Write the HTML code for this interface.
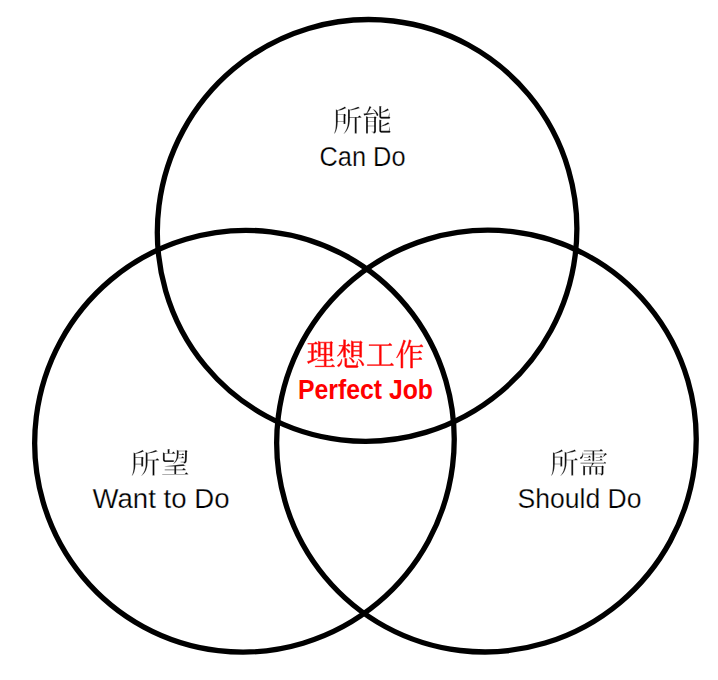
<!DOCTYPE html>
<html><head><meta charset="utf-8"><style>
html,body{margin:0;padding:0;background:#ffffff;width:718px;height:680px;overflow:hidden}
svg{display:block}
text{font-family:"Liberation Sans", sans-serif}
</style></head><body>
<svg width="718" height="680" viewBox="0 0 718 680">
<rect width="718" height="680" fill="#ffffff"/>
<g fill="none" stroke="#000000" stroke-width="5.3"><ellipse cx="367.1" cy="230.4" rx="211.3" ry="209.3" transform="rotate(-61.45 367.1 230.4)"/><ellipse cx="244.45" cy="441.2" rx="211.3" ry="209.3" transform="rotate(-61.45 244.45 441.2)"/><ellipse cx="486.45" cy="441.1" rx="211.3" ry="209.3" transform="rotate(-61.45 486.45 441.1)"/></g>
<g fill="#000" stroke="#ffffff" stroke-width="9.8"><path transform="translate(332.39,131.57) scale(0.02999,-0.03052)" d="M172 700 264 737 317 763 368 790 412 817 417 820 429 801 457 771 458 753 439 762 422 752 365 728 336 717 307 708 275 699 245 692 214 687 182 683H180V570H384L402 586L460 539L434 518V245H371V318H179L177 292L173 237L167 186L158 138L148 94L136 53L121 16L105 -19L86 -48L64 -73L57 -67L68 -38L79 -8L89 26L98 63L104 103L110 146L114 191L117 241L118 294L117 350V728ZM582 712 736 765 795 786 820 797 863 817 868 807 909 770 910 752 891 761 865 752 839 744 781 729 715 715 678 708 639 701 597 696 583 695V476H848L900 528L963 476V455H810V-60H746V455H583V392L579 332L572 275L562 222L548 170L530 122L509 76L483 33L454 -6L421 -41L385 -73L378 -66L406 -29L432 11L453 51L473 93L488 137L501 184L511 232L517 283L520 336V743ZM180 549V339H371V549Z"/><path transform="translate(362.38,131.57) scale(0.02999,-0.03052)" d="M306 -2H375L380 -1L385 1L387 3L388 8L390 13V171H185V-60H122V507L185 476H390L421 502L479 455L453 434V19L452 6L449 -8L445 -20L438 -32L430 -43L420 -51L407 -58L395 -62L382 -64L369 -65V-33L306 -18ZM634 -38 620 -36 607 -31 585 -17 576 -6 570 6 565 19 563 32V387L626 376L642 365L626 355V183L741 241L815 283L853 308L856 311L870 290L896 262L897 243L878 251L842 233L788 211L760 200L698 180L666 171L632 163L626 162V39L627 34L629 29L631 27L636 25L641 24H878L909 155H920L909 24L929 12L941 -8L929 -26L909 -39H647ZM634 424 620 427 607 431 585 445 576 456 570 469 565 480 563 494V838L626 827L642 817L626 808V634L713 678L764 704L828 744L842 754L846 757L859 735L886 708L887 689L867 697L835 682L784 660L728 641L697 631L665 623L631 615L626 614V501L627 496L629 491L631 489L636 487L641 486H867L899 617H909L899 486L918 474L931 455L918 436L899 423H647ZM459 574 450 595 447 601 416 592 378 583 261 561 140 541 78 532 68 515 57 529 40 591 51 592 135 597 181 690 203 742 237 829 240 836 296 806 307 790 286 787 266 745 235 692 203 646 188 626 171 607 161 599 216 603 256 604 296 606 374 611H441L429 633L415 652L400 672L364 711L344 731L350 739L376 727L400 713L423 696L443 679L463 660L480 641L496 620L510 599L521 576L531 553L527 528L510 514L485 516L470 534L466 555ZM185 318V192H390V318ZM185 455V339H390V455Z"/></g><g fill="#000" stroke="#ffffff" stroke-width="10.3"><path transform="translate(130.08,473.68) scale(0.03010,-0.02907)" d="M172 700 264 737 317 763 368 790 412 817 417 820 429 801 457 771 458 753 439 762 422 752 365 728 336 717 307 708 275 699 245 692 214 687 182 683H180V570H384L402 586L460 539L434 518V245H371V318H179L177 292L173 237L167 186L158 138L148 94L136 53L121 16L105 -19L86 -48L64 -73L57 -67L68 -38L79 -8L89 26L98 63L104 103L110 146L114 191L117 241L118 294L117 350V728ZM582 712 736 765 795 786 820 797 863 817 868 807 909 770 910 752 891 761 865 752 839 744 781 729 715 715 678 708 639 701 597 696 583 695V476H848L900 528L963 476V455H810V-60H746V455H583V392L579 332L572 275L562 222L548 170L530 122L509 76L483 33L454 -6L421 -41L385 -73L378 -66L406 -29L432 11L453 51L473 93L488 137L501 184L511 232L517 283L520 336V743ZM180 549V339H371V549Z"/><path transform="translate(160.18,473.68) scale(0.03010,-0.02907)" d="M69 -8H469V118H153V140H469V247L421 245L356 243H223L153 246V255L222 264L543 299L661 313L770 327L774 328L775 322L837 271L839 256L814 270L781 266L725 261L607 254L531 250V140H731L783 192L847 140V118H531V-8H815L867 45L931 -8V-28H69ZM615 791H825L857 817L915 770L889 754L888 726V630L887 588L886 551L884 518L883 489L881 465L879 444L876 428L873 414L868 401L862 390L854 380L845 370L834 362L822 356L810 353L797 351L783 350V381L679 396V413H790L795 414L799 415L805 418L809 423L811 427L813 432V438L816 452L818 470L819 493L821 521L822 553L823 590L824 631L825 676V770H615V686L612 639L605 595L596 552V549H698L741 597L794 549V528H589V530L583 513L567 476L548 441L525 409L501 381L472 356L439 336L434 344L458 371L479 399L497 429L513 460L526 492L537 527L545 563L550 603L553 644V822ZM469 434 456 415 437 402H175L161 403L147 405L135 409L123 416L112 425L104 436L98 447L93 460L91 473V738L153 707H248V849L311 838L327 827L311 818V707H385L437 759L500 707V686H153V479L154 476L156 471L158 469L163 467L168 466L175 465H437L456 452ZM794 665V644H615V665H720L752 701Z"/></g><g fill="#000" stroke="#ffffff" stroke-width="10.2"><path transform="translate(549.54,473.65) scale(0.02918,-0.02945)" d="M172 700 264 737 317 763 368 790 412 817 417 820 429 801 457 771 458 753 439 762 422 752 365 728 336 717 307 708 275 699 245 692 214 687 182 683H180V570H384L402 586L460 539L434 518V245H371V318H179L177 292L173 237L167 186L158 138L148 94L136 53L121 16L105 -19L86 -48L64 -73L57 -67L68 -38L79 -8L89 26L98 63L104 103L110 146L114 191L117 241L118 294L117 350V728ZM582 712 736 765 795 786 820 797 863 817 868 807 909 770 910 752 891 761 865 752 839 744 781 729 715 715 678 708 639 701 597 696 583 695V476H848L900 528L963 476V455H810V-60H746V455H583V392L579 332L572 275L562 222L548 170L530 122L509 76L483 33L454 -6L421 -41L385 -73L378 -66L406 -29L432 11L453 51L473 93L488 137L501 184L511 232L517 283L520 336V743ZM180 549V339H371V549Z"/><path transform="translate(578.71,473.65) scale(0.02918,-0.02945)" d="M657 2H763L769 3H773L776 4L778 5L780 7L781 9L782 12L783 17V228H637V-34H573V228H427V-34H363V228H217V-57H153V280L217 249H426L428 254L432 269L439 297L454 348H64V368H861L894 405L936 368V348H520L503 324L460 270L439 249H783L815 275L873 228L847 207V23L846 10L844 -3L839 -17L832 -27L824 -38L813 -47L802 -54L789 -58L775 -61H763V-29L657 -14ZM45 513 42 536 56 557 67 563 78 570 89 581 99 594 107 609 116 627 123 647 129 670 135 695 139 724H147L151 695L153 679H469V764H175V785H710L763 837L825 785V764H531V679H883L887 682L888 685L890 684L915 705L973 658L946 642L924 633L904 614L884 597L861 581L850 573L839 563L832 570L840 581L869 641L877 658H531V425H469V658H154V642L152 617L147 595L141 573L132 553L120 534L105 518L89 503L65 499ZM416 466V444H185V466H320L363 513ZM815 466V444H584V466H720L763 513ZM416 567V546H185V567H320L363 614ZM815 567V546H584V567H720L763 614Z"/></g><g fill="#ff0000" stroke="#ff0000" stroke-width="16.1"><path transform="translate(306.36,366.13) scale(0.02959,-0.03113)" d="M301 3H605V177H379V197H605V360H469V308H405V801L469 770H805L836 796L894 749L867 728V318H805V360H668V197H794L847 250L909 197V177H668V3H836L889 56L951 3V-18H301ZM45 150 103 166 177 189V444H60V465H177V707H50V728H262L314 780L377 728V707H239V465H257L309 518L372 465V444H239V209L337 239L375 249L379 240L311 201L244 169L150 126L85 99L79 79L64 91L35 147ZM668 555V381H805V555ZM668 749V575H805V749ZM469 555V381H605V555ZM469 749V575H605V749Z"/><path transform="translate(335.96,366.13) scale(0.02959,-0.03113)" d="M586 783H802L833 809L892 762L865 741V288H802V333H586V288H523V814ZM401 465 386 490 365 517 324 561 321 563V287H259V541L248 521L226 485L202 450L176 418L147 388L118 360L85 336L51 314L45 322L98 381L121 410L145 442L165 476L184 510L201 546L218 583L231 623L237 644H101V665H259V849L321 838L337 827L321 818V665H363L416 717L479 665V644H321V578L353 563L371 554L404 533L433 511L456 486L467 474L470 450L455 431L432 428L412 442L407 453ZM721 150H731L721 20L739 7L752 -12L739 -31L721 -44H385L371 -43L357 -40L345 -36L333 -30L322 -21L314 -11L308 1L303 14L301 26V250L363 239L379 229L363 220V34L364 29L365 26L366 24L368 22L370 21H373L378 20H689ZM586 479V354H802V479ZM586 624V501H802V624ZM586 762V646H802V762ZM868 71 860 90 851 107 839 125 826 143 811 161 775 196 754 213 759 221 784 211 810 199 832 186 853 171 872 154 889 136 904 117 918 97 930 75 940 53 938 28 919 13 896 16 880 34 875 53ZM55 1V25L70 43L85 50L99 58L112 68L125 82L138 99L149 117L160 139L171 163L181 190L189 220L199 219L198 187L196 156L191 128L185 102L176 78L164 55L150 34L135 16L117 0L98 -14L73 -15ZM553 144 536 173 526 188 517 201 492 229 466 256 449 269 454 276 492 262 511 253 545 231 561 219 575 205 603 175 614 158 616 134 602 115 578 113 559 128Z"/><path transform="translate(365.55,366.13) scale(0.02959,-0.03113)" d="M59 45H469V665H117V686H768L820 738L883 686V665H531V45H825L878 98L941 45V24H59Z"/><path transform="translate(395.14,366.13) scale(0.02959,-0.03113)" d="M534 821 548 809 529 802 521 771 507 723 490 676 478 644H822L875 696L938 644V623H586V444H773L825 497L889 444V423H586V234H785L838 287L901 234V213H586V-60H522V623H468L450 584L427 540L401 497L373 456L343 416L310 379L302 385L350 471L392 558L426 646L440 692L453 738L464 786L473 834L475 844ZM345 813 357 800 339 795 325 753 279 635 254 577 239 548 260 544 275 533 260 524V-60H197V468L164 414L131 361L95 312L56 263L48 269L106 376L161 485L209 597L230 654L269 771L287 840Z"/></g>
<g font-family="Liberation Sans, sans-serif"><text x="319.50" y="165.60" font-size="27" font-weight="normal" fill="#000" stroke="#ffffff" stroke-width="0.25" textLength="86.00" lengthAdjust="spacingAndGlyphs">Can Do</text><text x="92.50" y="507.80" font-size="27" font-weight="normal" fill="#000" stroke="#ffffff" stroke-width="0.25" textLength="137.00" lengthAdjust="spacingAndGlyphs">Want to Do</text><text x="517.50" y="507.80" font-size="27" font-weight="normal" fill="#000" stroke="#ffffff" stroke-width="0.25" textLength="124.00" lengthAdjust="spacingAndGlyphs">Should Do</text><text x="298.00" y="398.80" font-size="27" font-weight="bold" fill="#ff0000" textLength="135.00" lengthAdjust="spacingAndGlyphs">Perfect Job</text></g>
</svg>
</body></html>
